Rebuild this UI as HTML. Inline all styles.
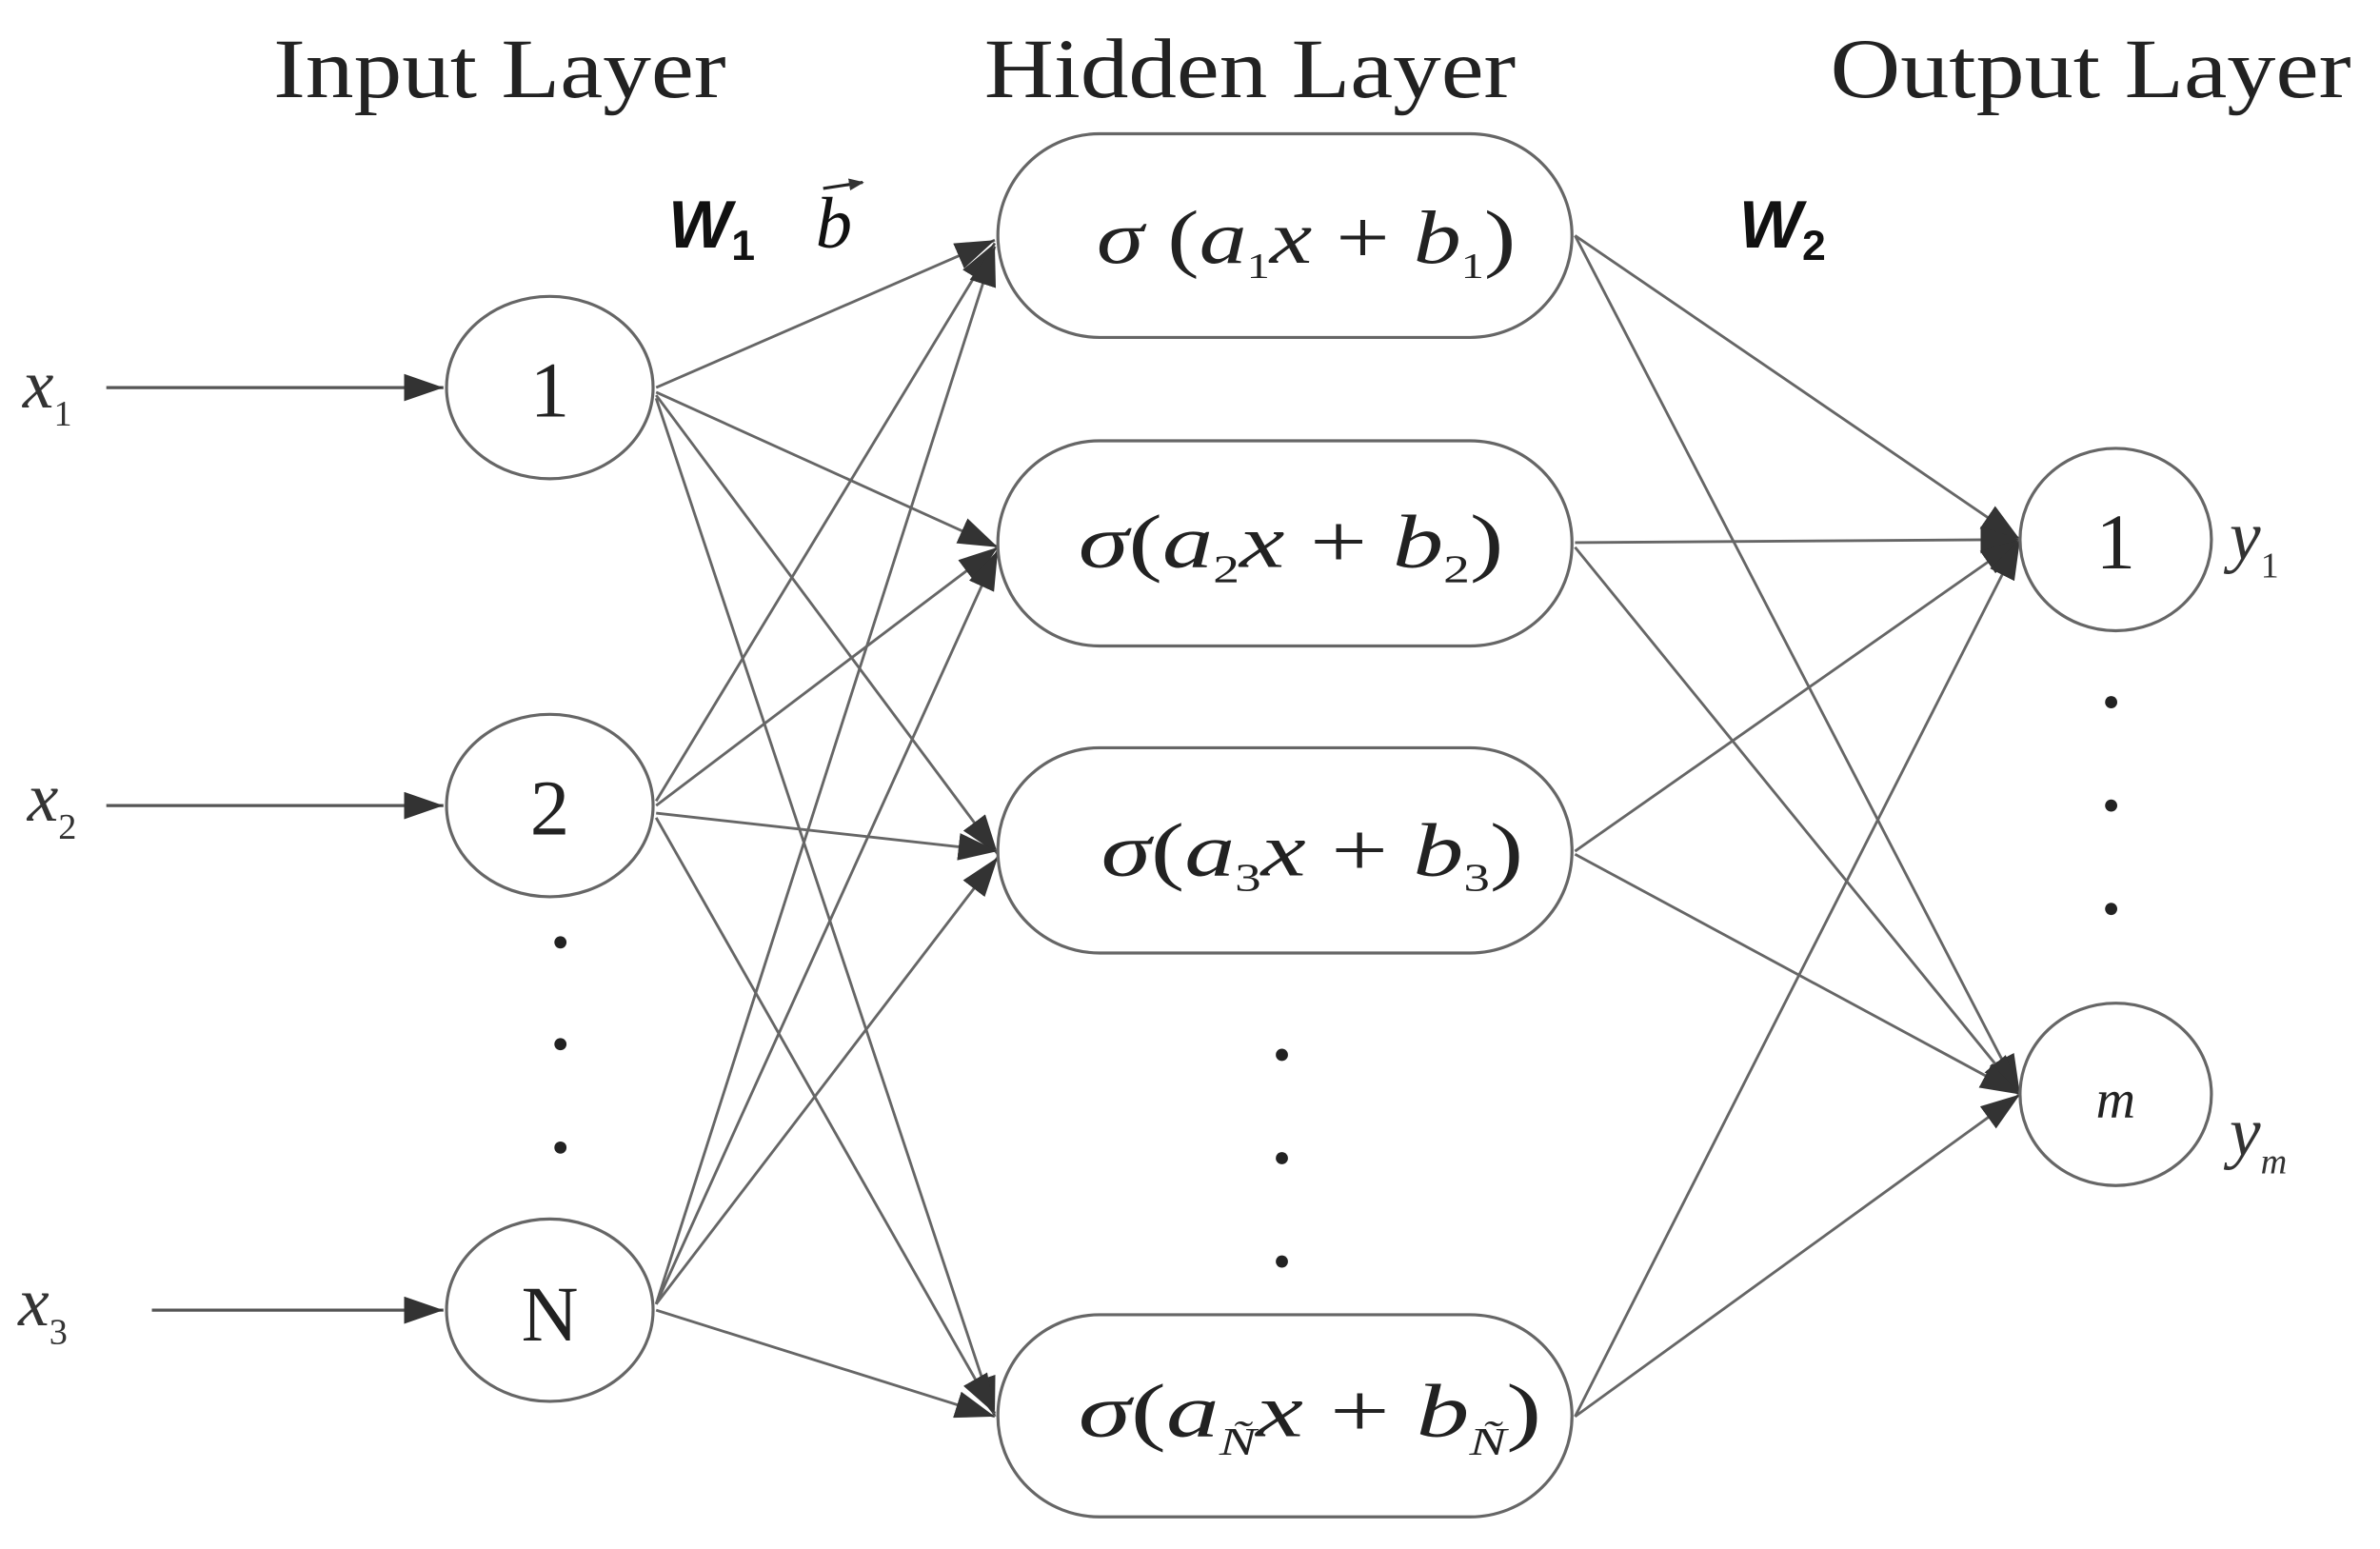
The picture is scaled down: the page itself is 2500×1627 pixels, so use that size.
<!DOCTYPE html>
<html><head><style>html,body{margin:0;padding:0;background:#fff}</style></head><body>
<svg width="2500" height="1622" viewBox="0 0 1567 1016" preserveAspectRatio="none" xmlns="http://www.w3.org/2000/svg" font-family="Liberation Serif, serif">
<defs><marker id="a" markerWidth="10" markerHeight="8" refX="9" refY="4" orient="auto" markerUnits="userSpaceOnUse" viewBox="0 0 10 8"><path d="M0,0 L10,4 L0,8 Z" fill="#333"/></marker>
<marker id="b" markerWidth="26" markerHeight="18" refX="26" refY="9" orient="auto" markerUnits="userSpaceOnUse"><path d="M0,0 L26,9 L0,18 Z" fill="#333"/></marker></defs>
<g fill="#222" font-size="56">
<text x="180" y="64" textLength="298" lengthAdjust="spacingAndGlyphs">Input Layer</text>
<text x="648" y="64" textLength="350" lengthAdjust="spacingAndGlyphs">Hidden Layer</text>
<text x="1205" y="64" textLength="343" lengthAdjust="spacingAndGlyphs">Output Layer</text></g>
<g stroke="#555" stroke-width="2" fill="none" marker-end="url(#b)">
<line x1="70" y1="255" x2="292" y2="255"/><line x1="70" y1="530" x2="292" y2="530"/><line x1="100" y1="862" x2="292" y2="862"/>
</g>
<g stroke="#666" stroke-width="1.8" fill="none" marker-end="url(#b)">
<line x1="432" y1="255" x2="655" y2="158"/><line x1="432" y1="258" x2="657" y2="360"/><line x1="432" y1="260" x2="657" y2="562"/><line x1="432" y1="262" x2="655" y2="932"/>
<line x1="432" y1="527" x2="655" y2="160"/><line x1="432" y1="530" x2="657" y2="360"/><line x1="432" y1="535" x2="657" y2="560"/><line x1="432" y1="538" x2="655" y2="930"/>
<line x1="432" y1="858" x2="655" y2="162"/><line x1="432" y1="858" x2="657" y2="362"/><line x1="432" y1="858" x2="657" y2="564"/><line x1="432" y1="862" x2="655" y2="932"/>
<line x1="1037" y1="155" x2="1330" y2="355"/><line x1="1037" y1="155" x2="1330" y2="720"/>
<line x1="1037" y1="357" x2="1330" y2="355"/><line x1="1037" y1="360" x2="1330" y2="720"/>
<line x1="1037" y1="560" x2="1330" y2="355"/><line x1="1037" y1="562" x2="1330" y2="720"/>
<line x1="1037" y1="932" x2="1330" y2="355"/><line x1="1037" y1="932" x2="1330" y2="720"/>
</g>
<g stroke="#666" stroke-width="2" fill="#fff">
<ellipse cx="362" cy="255" rx="68" ry="60"/><ellipse cx="362" cy="530" rx="68" ry="60"/><ellipse cx="362" cy="862" rx="68" ry="60"/>
<rect x="657" y="88" width="378" height="134" rx="67"/><rect x="657" y="290" width="378" height="135" rx="67"/>
<rect x="657" y="492" width="378" height="135" rx="67"/><rect x="657" y="865" width="378" height="133" rx="67"/>
<ellipse cx="1393" cy="355" rx="63" ry="60"/><ellipse cx="1393" cy="720" rx="63" ry="60"/>
</g>
<g fill="#222" font-size="52" text-anchor="middle">
<text x="362" y="274">1</text><text x="362" y="549">2</text><text x="362" y="882">N</text>
<text x="1393" y="374">1</text><text x="1393" y="735" font-style="italic" font-size="36">m</text>
</g>
<g fill="#222" font-size="50">
<text x="722" y="173" textLength="276" lengthAdjust="spacingAndGlyphs"><tspan font-style="italic">σ</tspan> (<tspan font-style="italic">a</tspan><tspan font-size="24" dy="10">1</tspan><tspan font-style="italic" dy="-10">x</tspan> + <tspan font-style="italic">b</tspan><tspan font-size="24" dy="10">1</tspan><tspan dy="-10">)</tspan></text>
<text x="710" y="373" textLength="280" lengthAdjust="spacingAndGlyphs"><tspan font-style="italic">σ</tspan>(<tspan font-style="italic">a</tspan><tspan font-size="26" dy="10">2</tspan><tspan font-style="italic" dy="-10">x</tspan> + <tspan font-style="italic">b</tspan><tspan font-size="26" dy="10">2</tspan><tspan dy="-10">)</tspan></text>
<text x="725" y="576" textLength="278" lengthAdjust="spacingAndGlyphs"><tspan font-style="italic">σ</tspan>(<tspan font-style="italic">a</tspan><tspan font-size="26" dy="10">3</tspan><tspan font-style="italic" dy="-10">x</tspan> + <tspan font-style="italic">b</tspan><tspan font-size="26" dy="10">3</tspan><tspan dy="-10">)</tspan></text>
<text x="710" y="945" textLength="305" lengthAdjust="spacingAndGlyphs"><tspan font-style="italic">σ</tspan>(<tspan font-style="italic">a</tspan><tspan font-size="26" font-style="italic" dy="12">Ñ</tspan><tspan font-style="italic" dy="-12">x</tspan> + <tspan font-style="italic">b</tspan><tspan font-size="26" font-style="italic" dy="12">Ñ</tspan><tspan dy="-12">)</tspan></text>
</g>
<g fill="#333" font-size="46" font-style="italic">
<text x="15" y="268">x<tspan font-size="24" font-style="normal" dy="12">1</tspan></text>
<text x="18" y="540">x<tspan font-size="24" font-style="normal" dy="12">2</tspan></text>
<text x="12" y="872">x<tspan font-size="24" font-style="normal" dy="12">3</tspan></text>
<text x="1468" y="368">y<tspan font-size="24" font-style="normal" dy="12">1</tspan></text>
<text x="1468" y="760">y<tspan font-size="24" dy="12">m</tspan></text>
</g>
<g fill="#111" font-family="Liberation Sans, sans-serif" font-weight="bold" font-style="italic" font-size="44">
<text x="440" y="163">W<tspan font-size="28" font-style="normal" dy="8">1</tspan></text>
<text x="537" y="163" font-family="Liberation Serif, serif" font-weight="normal" font-size="48">b</text>
<text x="1145" y="163">W<tspan font-size="28" font-style="normal" dy="8">2</tspan></text>
</g>
<line x1="542" y1="124" x2="568" y2="120" stroke="#222" stroke-width="2" marker-end="url(#a)"/>
<g fill="#222"><circle cx="369" cy="620" r="4"/><circle cx="369" cy="687" r="4"/><circle cx="369" cy="755" r="4"/>
<circle cx="844" cy="694" r="4"/><circle cx="844" cy="762" r="4"/><circle cx="844" cy="830" r="4"/>
<circle cx="1390" cy="462" r="4"/><circle cx="1390" cy="530" r="4"/><circle cx="1390" cy="598" r="4"/></g>
</svg>
</body></html>
